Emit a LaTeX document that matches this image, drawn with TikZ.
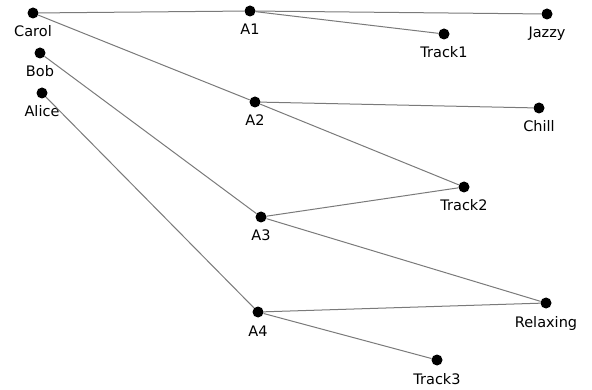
\documentclass[tikz,border=0pt]{standalone}
\usepackage{fontspec}
\setmainfont{DejaVu Sans}
\begin{document}
\begin{tikzpicture}[x=1pt,y=-1pt,
  dot/.style={circle,fill=black,inner sep=0pt,minimum size=11pt},
  lbl/.style={anchor=base,inner sep=0pt,font=\fontsize{14.5}{16}\selectfont,text=black},
  edge/.style={draw=black!52,line width=1pt}]
\useasboundingbox (0,0) rectangle (592,390);
\foreach \n/\x/\y/\t in {carol/33/13/Carol, bob/40/53/Bob, alice/42/93/Alice,
  a1/250/11/A1, a2/255/102/A2, a3/261/217/A3, a4/258/312/A4,
  track1/444/34/Track1, jazzy/547/14/Jazzy, chill/539/108/Chill,
  track2/464/187/Track2, relaxing/546/303/Relaxing, track3/437/360/Track3}{
  \node[dot] (\n) at (\x,\y) {};
  \node[lbl] (\n-l) at ([yshift=-24pt]\n.center) {\t};
}
\foreach \a/\b in {carol/a1, a1/jazzy, a1/track1, carol/a2, a2/chill, a2/track2,
  bob/a3, a3/track2, a3/relaxing, alice/a4, a4/relaxing, a4/track3}{
  \draw[edge] (\a) -- (\b);
}
\end{tikzpicture}
\end{document}
